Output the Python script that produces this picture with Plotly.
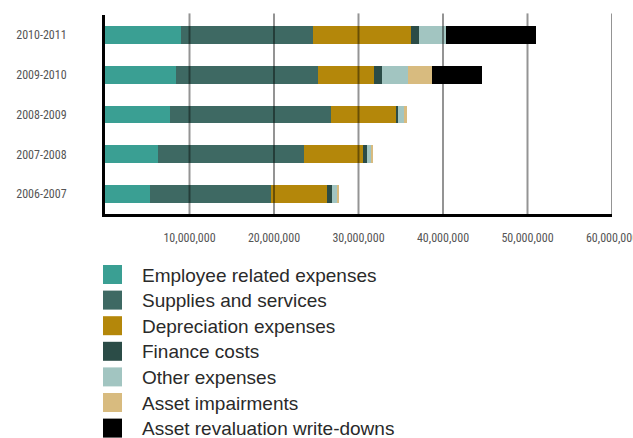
import plotly.graph_objects as go

# ---- data (values in dollars) ----
years = ["2006-2007", "2007-2008", "2008-2009", "2009-2010", "2010-2011"]
employee = [5.28e6, 6.26e6, 7.65e6, 8.44e6, 8.95e6]
supplies = [14.34e6, 17.27e6, 19.05e6, 16.79e6, 15.69e6]
depreciation = [6.68e6, 7.04e6, 7.70e6, 6.64e6, 11.58e6]
finance = [0.60e6, 0.47e6, 0.30e6, 0.95e6, 0.98e6]
other = [0.50e6, 0.48e6, 0.63e6, 3.08e6, 3.13e6]
impairments = [0.27e6, 0.23e6, 0.35e6, 2.85e6, 0.0]
revaluation = [0.0, 0.0, 0.0, 5.85e6, 10.67e6]

series_names = ["Employee related expenses", "Supplies and services",
                "Depreciation expenses", "Finance costs", "Other expenses",
                "Asset impairments", "Asset revaluation write-downs"]
series_values = [employee, supplies, depreciation, finance, other, impairments, revaluation]
series_colors = ["#3a9f93", "#3e6963", "#b4870a", "#2b4c47", "#a2c5c1", "#d8bb7f", "#000000"]

tick_vals = [10e6, 20e6, 30e6, 40e6, 50e6, 60e6]
tick_text = ["10,000,000", "20,000,000", "30,000,000", "40,000,000", "50,000,000", "60,000,000"]

# ---- layout geometry ----
W, H = 633, 438
ML, MR, MT, MB = 105, 21, 15, 224
PW, PH = W - ML - MR, H - MT - MB

def px_to_paper_x(x):
    return (x - ML) / PW

def px_to_paper_y(y):
    return (MT + PH - y) / PH

narrow = "Liberation Sans Narrow, Arial Narrow, Roboto Condensed, DejaVu Sans Condensed, sans-serif"

fig = go.Figure()
for name, vals, col in zip(series_names, series_values, series_colors):
    fig.add_trace(go.Bar(y=years, x=vals, orientation="h", name=name,
                         marker=dict(color=col, line=dict(width=0)),
                         showlegend=False))

shapes = []
for tv in tick_vals:
    shapes.append(dict(type="line", xref="x", yref="paper", x0=tv, x1=tv,
                       y0=0, y1=1.008, layer="above",
                       line=dict(color="rgba(0,0,0,0.42)", width=2)))

annotations = []
# manual legend
leg_x_sq = 103
sq = 19
leg_y0 = 274.5
leg_dy = 25.6
for i, (name, col) in enumerate(zip(series_names, series_colors)):
    cy = leg_y0 + i * leg_dy
    shapes.append(dict(type="rect", xref="paper", yref="paper",
                       x0=px_to_paper_x(leg_x_sq), x1=px_to_paper_x(leg_x_sq + sq),
                       y0=px_to_paper_y(cy + sq / 2), y1=px_to_paper_y(cy - sq / 2),
                       fillcolor=col, line=dict(width=0), layer="above"))
    annotations.append(dict(xref="paper", yref="paper", x=px_to_paper_x(140),
                            y=px_to_paper_y(cy + 0.5), xanchor="left", yanchor="middle",
                            text=name, showarrow=False,
                            font=dict(family="Liberation Sans, Arial, sans-serif",
                                      size=19, color="#2a2a2a")))

fig.update_layout(
    width=W, height=H,
    margin=dict(l=ML, r=MR, t=MT, b=MB, pad=0, autoexpand=False),
    barmode="stack", bargap=0.55,
    plot_bgcolor="white", paper_bgcolor="white",
    shapes=shapes, annotations=annotations,
    xaxis=dict(range=[0, 60e6], tickvals=tick_vals, ticktext=tick_text,
               showgrid=False, zeroline=False, showline=True, linecolor="black",
               linewidth=3, ticks="", ticklabelstandoff=11, ticklabeloverflow="allow",
               automargin=False,
               tickfont=dict(family=narrow, size=12, color="#555555")),
    yaxis=dict(categoryorder="array", categoryarray=years, range=[-0.5, 4.5],
               showgrid=False, zeroline=False, showline=True, linecolor="black",
               linewidth=3, ticks="", ticklabelstandoff=33, automargin=False,
               tickfont=dict(family=narrow, size=12, color="#555555")),
)

fig.write_html("out.html")
